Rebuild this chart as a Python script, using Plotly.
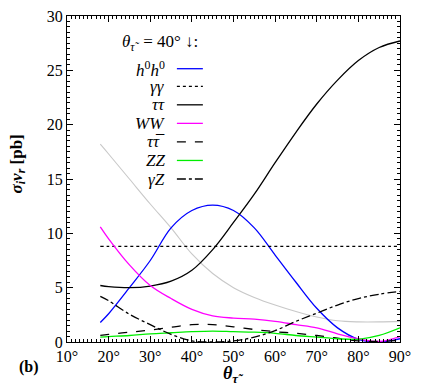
import plotly.graph_objects as go

# angle theta (degrees) and cross sections sigma_i v_r (pb)
theta = [18, 20, 25, 30, 35, 40, 45, 50, 55, 60, 65, 70, 75, 80, 85, 90]

h0h0 = [1.8, 2.6, 5.0, 7.5, 10.5, 12.1, 12.6, 12.1, 10.5, 8.0, 5.5, 3.1, 1.3, 0.25, 0.0, 0.3]
gaga = [8.8] * len(theta)
tautau = [5.2, 5.1, 5.0, 5.15, 5.6, 6.6, 8.5, 11.0, 13.6, 16.5, 19.3, 21.9, 24.1, 25.9, 27.1, 27.7]
ww = [10.6, 9.5, 7.1, 5.2, 4.0, 3.0, 2.4, 2.2, 2.1, 1.9, 1.6, 1.3, 0.75, 0.3, 0.05, 0.5]
tautaubar = [0.6, 0.7, 0.9, 1.1, 1.35, 1.6, 1.6, 1.4, 1.15, 0.95, 0.8, 0.6, 0.35, 0.1, 0.05, 0.15]
zz = [0.45, 0.5, 0.6, 0.75, 0.85, 0.95, 1.0, 0.95, 0.9, 0.8, 0.6, 0.45, 0.3, 0.25, 0.6, 1.3]
gaz = [4.2, 3.8, 2.55, 1.6, 0.7, 0.1, 0.0, 0.1, 0.45, 1.05, 1.9, 2.65, 3.4, 4.0, 4.4, 4.65]
other = [18.2, 17.3, 15.0, 12.7, 10.5, 8.1, 6.3, 5.0, 4.1, 3.4, 2.8, 2.3, 1.95, 1.85, 1.85, 1.9]

xticks = [10, 20, 30, 40, 50, 60, 70, 80, 90]

series = [
    ("<i>h</i><sup>0</sup><i>h</i><sup>0</sup>", h0h0, "#0000ff", "solid"),
    ("<i>γγ</i>", gaga, "black", "dot"),
    ("<i>ττ</i>", tautau, "black", "solid"),
    ("<i>WW</i>", ww, "#ff00ff", "solid"),
    ("<i>ττ̅</i>", tautaubar, "black", "dash"),
    ("<i>ZZ</i>", zz, "#00ee00", "solid"),
    ("<i>γZ</i>", gaz, "black", "dashdot"),
]

font = "Liberation Serif, serif"

fig = go.Figure()
fig.add_trace(go.Scatter(x=theta, y=other, mode="lines", line=dict(color="#c8c8c8", width=1.1, shape="spline"),
                         showlegend=False))
for name, vals, col, dash in series:
    fig.add_trace(go.Scatter(x=theta, y=vals, mode="lines", name=name,
                             line=dict(color=col, width=1.3, dash=dash, shape="spline"), showlegend=False))

# hand-made legend: text on the left, line sample on the right
ys = [62, 80, 99, 118, 137, 156, 175]
for (name, vals, col, dash), yp in zip(series, ys):
    yy = (342 - yp) / 334
    fig.add_annotation(x=0.30, y=yy, xref="paper", yref="paper", text=name, showarrow=False,
                       xanchor="right", yanchor="middle", font=dict(size=17, family=font, color="black"))
    fig.add_shape(type="line", xref="paper", yref="paper", x0=0.33, x1=0.408, y0=yy, y1=yy,
                  line=dict(color=col, width=1.3, dash=dash))
fig.add_annotation(x=0.40, y=(342 - 36) / 334, xref="paper", yref="paper",
                   text="<i>θ</i><sub><i>τ̃</i></sub>  = 40° ↓:", showarrow=False,
                   xanchor="right", yanchor="middle", font=dict(size=17, family=font, color="black"))

fig.add_annotation(x=-0.147, y=0.545, xref="paper", yref="paper", textangle=-90,
                   xanchor="center", yanchor="middle",
                   text="<b><i>σ</i><sub><i>i</i></sub><i>v</i><sub><i>r</i></sub> [pb]</b>", showarrow=False,
                   font=dict(size=17, family=font, color="black"))
fig.add_annotation(x=0.5, y=-0.1, xref="paper", yref="paper", text="<b><i>θ</i><sub><i>τ̃</i></sub></b>",
                   xanchor="center", yanchor="middle",
                   showarrow=False, font=dict(size=18, family=font, color="black"))
fig.add_annotation(x=-0.15, y=-0.078, xref="paper", yref="paper", text="<b>(b)</b>", xanchor="left",
                   yanchor="middle", showarrow=False, font=dict(size=16, family=font, color="black"))

axis_common = dict(showgrid=False, zeroline=False, showline=True, linecolor="black", linewidth=1,
                   mirror="allticks", ticks="inside", ticklen=6, tickcolor="black",
                   ticklabeloverflow="allow",
                   tickfont=dict(size=16, family=font, color="black"))
fig.update_xaxes(range=[10, 90], tickvals=xticks, ticktext=[f"{v}°" for v in xticks],
                 minor=dict(dtick=1, ticklen=3, ticks="inside", tickcolor="black"), **axis_common)
fig.update_yaxes(range=[0, 30], dtick=5,
                 minor=dict(dtick=0.5, ticklen=3, ticks="inside", tickcolor="black"), **axis_common)
fig.update_layout(width=421, height=392, margin=dict(l=67, r=21, t=8, b=50),
                  font=dict(family=font, color="black"),
                  plot_bgcolor="white", paper_bgcolor="white", showlegend=False)

fig.write_html("out.html", config={"displayModeBar": False},
               post_script="document.body.style.margin='0';")
